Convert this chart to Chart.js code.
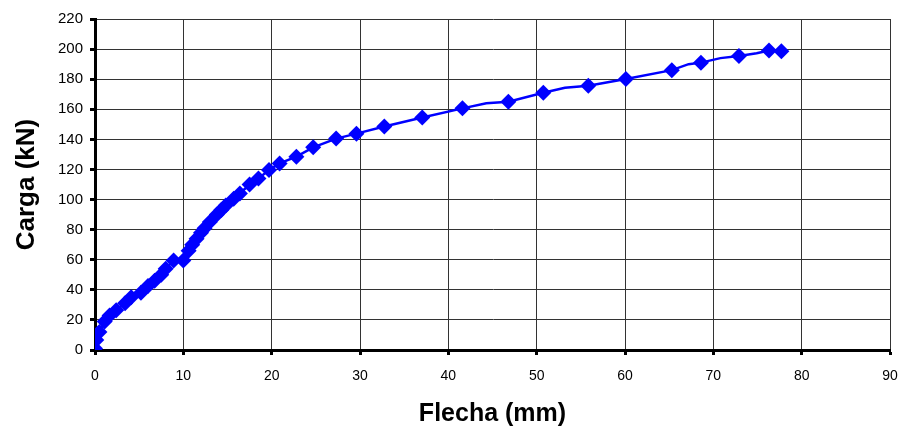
<!DOCTYPE html>
<html>
<head>
<meta charset="utf-8">
<script src="https://cdn.jsdelivr.net/npm/chart.js@4/dist/chart.umd.min.js"></script>
<style>
    html, body { margin: 0; padding: 0; background: #fff; }
    #wrap { width: 903px; height: 432px; }
</style>
</head>
<body>
<div id="wrap"><canvas id="curva"></canvas></div>
<script>
// ensayo: flecha (mm) frente a carga (kN), puntos con marcador
const flechaMm = [0, 0.15, 0.5, 1.1, 1.65, 2.4, 3.4, 4.1, 5.2, 6.0, 6.75, 7.5, 8.0, 8.9, 10.0,
    10.6, 11.0, 11.5, 12.0, 12.4, 13.0, 13.8, 14.3, 14.8, 15.7, 16.4, 17.5, 18.5, 19.7, 20.9,
    22.8, 24.7, 27.3, 29.6, 32.75, 37.05, 41.6, 46.8, 50.75, 55.85, 60.1, 65.3, 68.6, 72.9, 76.3, 77.7];
const cargaKN = [1, 6.6, 12, 19, 23, 26.5, 31, 35, 38, 42.5, 46, 50, 54, 59.5, 59.5,
    66, 70, 74, 78, 81, 85, 90, 93, 96, 100.5, 104, 110, 114, 119.6, 124,
    128.5, 134.7, 140.5, 143.8, 148.5, 154.5, 160.6, 165, 171, 175.7, 180.1, 186, 191, 195.4, 199, 198.6];

// vertices de la linea sin marcador (lecturas intermedias)
const flechaLinea = [44.3, 53.2, 67.2, 70.8, 74.9];
const cargaLinea = [164, 174.3, 190, 194, 197.2];

const ticksX = [0, 10, 20, 30, 40, 50, 60, 70, 80, 90];
const ticksY = [0, 20, 40, 60, 80, 100, 120, 140, 160, 180, 200, 220];

const azul = '#0000ff';

const puntos = flechaMm.map((x, i) => ({ x: x, y: cargaKN[i] }));
const linea = puntos
    .concat(flechaLinea.map((x, i) => ({ x: x, y: cargaLinea[i] })))
    .sort((a, b) => a.x - b.x);

const ctx = document.getElementById('curva').getContext('2d');
new Chart(ctx, {
    type: 'scatter',
    data: {
        datasets: [
            {
                data: linea,
                showLine: true,
                borderColor: azul,
                borderWidth: 2.5,
                pointRadius: 0,
                tension: 0
            },
            {
                data: puntos,
                showLine: false,
                pointStyle: 'rectRot',
                pointRadius: 8,
                backgroundColor: azul,
                borderColor: azul,
                borderWidth: 0
            }
        ]
    },
    options: {
        responsive: true,
        maintainAspectRatio: false,
        animation: false,
        layout: { autoPadding: false, padding: { top: 19, right: 13, left: 0, bottom: 0 } },
        plugins: {
            legend: { display: false },
            tooltip: { enabled: false }
        },
        scales: {
            x: {
                type: 'linear',
                min: 0,
                max: 90,
                // altura fija del eje y sin margen extra por la etiqueta "90"
                afterFit: s => { s.height = 82; s.paddingLeft = 0; s.paddingRight = 0; },
                afterBuildTicks: s => { s.ticks = ticksX.map(v => ({ value: v })); },
                border: { color: '#000', width: 3 },
                grid: { color: '#333', lineWidth: 1, tickLength: 5, tickWidth: 3, tickColor: '#000' },
                ticks: {
                    color: '#000',
                    padding: 13,
                    maxRotation: 0,
                    font: { family: 'Arial, "Liberation Sans", sans-serif', size: 14 }
                },
                title: {
                    display: true,
                    text: 'Flecha (mm)',
                    color: '#000',
                    padding: { top: 0, bottom: 3 },
                    font: { family: 'Arial, "Liberation Sans", sans-serif', size: 25, weight: 'bold' }
                }
            },
            y: {
                type: 'linear',
                min: 0,
                max: 220,
                afterFit: s => { s.width = 95; s.paddingTop = 0; s.paddingBottom = 0; },
                afterBuildTicks: s => { s.ticks = ticksY.map(v => ({ value: v })); },
                border: { color: '#000', width: 3 },
                grid: { color: '#333', lineWidth: 1, tickLength: 5, tickWidth: 3, tickColor: '#000' },
                ticks: {
                    color: '#000',
                    padding: 7,
                    font: { family: 'Arial, "Liberation Sans", sans-serif', size: 15 }
                },
                title: {
                    display: true,
                    text: 'Carga (kN)',
                    color: '#000',
                    padding: { top: 11, bottom: 0 },
                    font: { family: 'Arial, "Liberation Sans", sans-serif', size: 26, weight: 'bold' }
                }
            }
        }
    }
});
</script>
</body>
</html>
